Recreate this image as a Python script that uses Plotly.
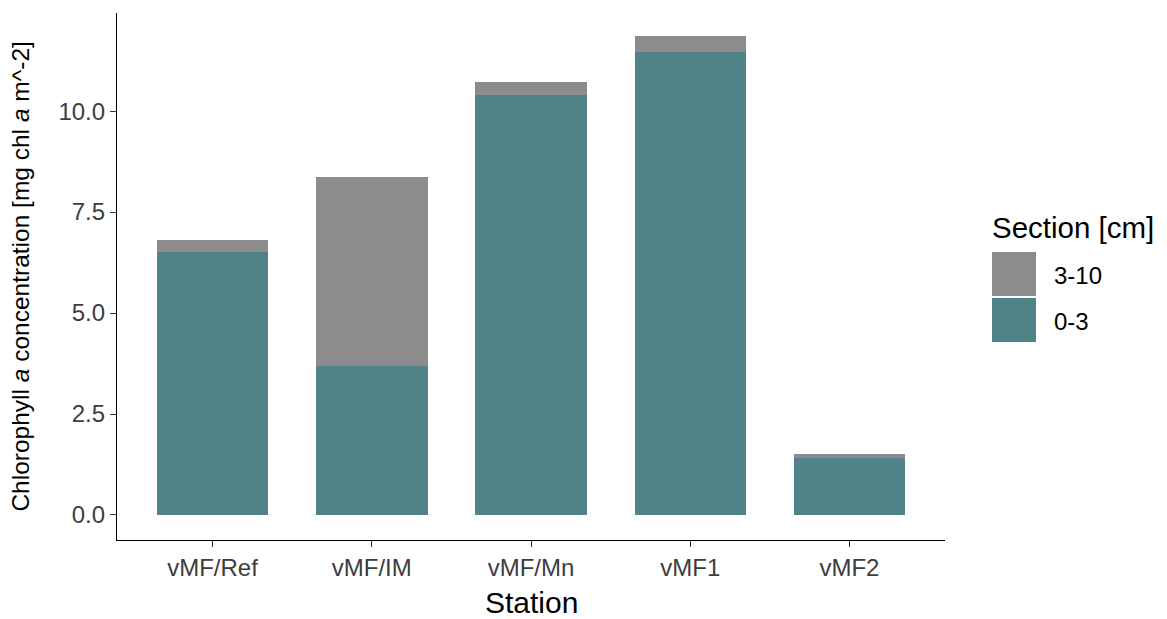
import plotly.graph_objects as go

stations = ["vMF/Ref", "vMF/IM", "vMF/Mn", "vMF1", "vMF2"]
sec_0_3 = [6.52, 3.69, 10.40, 11.47, 1.40]
sec_3_10 = [0.29, 4.67, 0.33, 0.40, 0.10]
y_ticks = [0.0, 2.5, 5.0, 7.5, 10.0]

TEAL = "#508387"
GREY = "#8D8B8B"
FONT = "Liberation Sans, Arial, sans-serif"
TICK_COL = "#3D3D3D"

fig = go.Figure()
fig.add_bar(x=stations, y=sec_0_3, name="0-3", marker=dict(color=TEAL, line_width=0), width=0.7)
fig.add_bar(x=stations, y=sec_3_10, name="3-10", marker=dict(color=GREY, line_width=0), width=0.7)

fig.update_layout(
    width=1167, height=619,
    margin=dict(l=117, r=222, t=13, b=79),
    barmode="stack",
    bargap=0.3,
    showlegend=False,
    plot_bgcolor="white",
    paper_bgcolor="white",
    font=dict(family=FONT, size=24, color=TICK_COL),
)
fig.update_xaxes(
    range=[-0.6, 4.6],
    showline=True, linecolor="black", linewidth=1.2,
    ticks="outside", ticklen=6, tickcolor="#333333", tickwidth=1.2,
    tickfont=dict(size=24, color=TICK_COL),
    showgrid=False, zeroline=False,
)
fig.update_yaxes(
    range=[-0.62, 12.43],
    tickvals=y_ticks, ticktext=[f"{v:.1f}" for v in y_ticks],
    showline=True, linecolor="black", linewidth=1.2,
    ticks="outside", ticklen=6, tickcolor="#333333", tickwidth=1.2,
    tickfont=dict(size=24, color=TICK_COL),
    showgrid=False, zeroline=False,
)

# axis titles
fig.add_annotation(text="Station", x=0.5, xref="paper", y=-0.118, yref="paper",
                   yanchor="middle", showarrow=False, font=dict(size=30, color="black"))
fig.add_annotation(text="Chlorophyll <i>a</i> concentration [mg chl <i>a</i> m^-2]",
                   x=-0.117, xref="paper", y=0.5, yref="paper", textangle=-90,
                   xanchor="center", yanchor="middle", showarrow=False,
                   font=dict(size=24.5, color="black"))

# legend drawn as keys + labels
def px_x(p):
    return (p - 117) / 828

def px_y(p):
    return (540 - p) / 527

fig.add_annotation(text="Section [cm]", x=px_x(990), xref="paper", y=px_y(227), yref="paper",
                   xanchor="left", yanchor="middle", showarrow=False,
                   font=dict(size=29.5, color="black"))
keys = [("3-10", GREY, 252, 296), ("0-3", TEAL, 298, 342)]
for label, col, top, bot in keys:
    fig.add_shape(type="rect", xref="paper", yref="paper",
                  x0=px_x(992), x1=px_x(1036), y0=px_y(bot), y1=px_y(top),
                  fillcolor=col, line_width=0)
    fig.add_annotation(text=label, x=px_x(1052), xref="paper", y=px_y((top + bot) / 2 + 1),
                       yref="paper", xanchor="left", yanchor="middle", showarrow=False,
                       font=dict(size=24, color="black"))

fig.write_html("out.html")
